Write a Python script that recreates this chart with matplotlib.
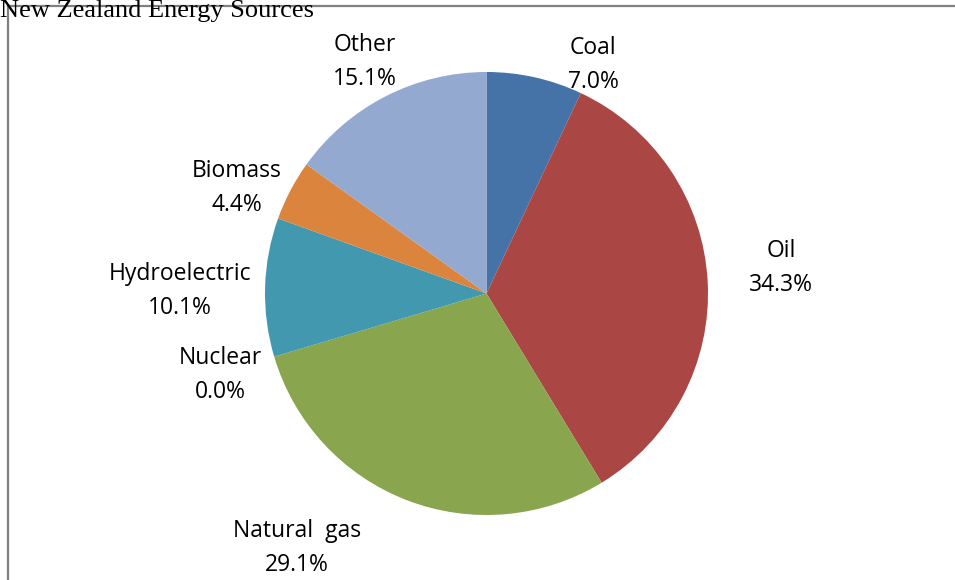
import matplotlib
matplotlib.use("Agg")
import matplotlib.pyplot as plt
from matplotlib.lines import Line2D

# Energy mix shares (percent)
sources = ["Coal", "Oil", "Natural  gas", "Nuclear", "Hydroelectric", "Biomass", "Other"]
shares = [7.0, 34.3, 29.1, 0.0, 10.1, 4.4, 15.1]
colors = ["#4572A7", "#AA4643", "#89A54E", "#71588F", "#4198AF", "#DB843D", "#93A9CF"]

# Label anchor points (pixels from top-left), one per source
label_xy = [(593, 65), (781, 268), (297, 548), (220, 375), (180, 291), (237, 188), (365, 62)]

W, H = 955, 580
fig = plt.figure(figsize=(W / 100, H / 100), dpi=100)
ax = fig.add_axes([0, 0, 1, 1])
ax.set_xlim(0, W)
ax.set_ylim(0, H)
ax.set_aspect("equal")
ax.axis("off")

cx, cy, r = 486.5, H - 293.5, 221.5
ax.pie(shares, colors=colors, startangle=90, counterclock=False,
       center=(cx, cy), radius=r, wedgeprops=dict(linewidth=0),
       frame=False)
ax.set_xlim(0, W)
ax.set_ylim(0, H)

for name, val, (lx, ly) in zip(sources, shares, label_xy):
    ax.text(lx, H - ly, f"{name}\n{val:.1f}%", ha="center", va="center",
            fontsize=16.5, family="Open Sans", color="#000000", linespacing=1.55)

# Chart frame (top and left edges)
fig.add_artist(Line2D([8 / W, 1], [1 - 6 / H, 1 - 6 / H], color="#808080", lw=1.6,
                      transform=fig.transFigure))
fig.add_artist(Line2D([8 / W, 8 / W], [0, 1 - 6 / H], color="#808080", lw=1.6,
                      transform=fig.transFigure))

fig.text(0.0, 1 - 0 / H, "New Zealand Energy Sources", ha="left", va="top",
         fontsize=19, family="Liberation Serif", color="#000000")

fig.savefig("out.png", dpi=100)
